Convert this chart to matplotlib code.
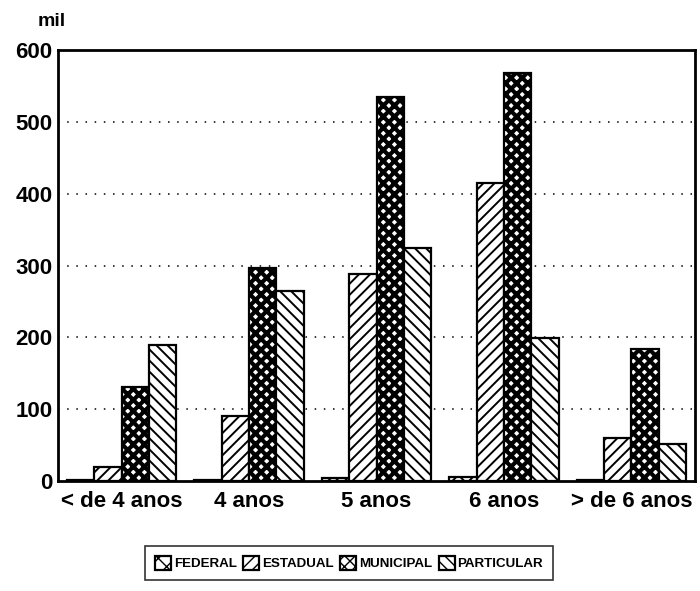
import matplotlib
matplotlib.use("Agg")
import matplotlib.pyplot as plt
import numpy as np

categories = ["< de 4 anos", "4 anos", "5 anos", "6 anos", "> de 6 anos"]
series_names = ["FEDERAL", "ESTADUAL", "MUNICIPAL", "PARTICULAR"]
federal = [1, 2, 4, 5, 1]
estadual = [19, 90, 288, 415, 60]
municipal = [131, 297, 535, 568, 184]
particular = [189, 264, 324, 199, 51]
yticks = [0, 100, 200, 300, 400, 500, 600]

values = [federal, estadual, municipal, particular]
hatches = ["xx", "///", "xxx", "\\\\\\"]
hatch_lw = [1.4, 1.4, 3.0, 1.4]

plt.rcParams['font.family'] = ['Liberation Sans', 'DejaVu Sans']

fig = plt.figure(figsize=(7.0, 5.91), dpi=100)
ax = fig.add_axes([58/700, 1-481/591, (695-58)/700, (481-50)/591])

x = np.arange(len(categories))
w = 0.215
handles = []
for i, (name, vals) in enumerate(zip(series_names, values)):
    with plt.rc_context({'hatch.linewidth': hatch_lw[i], 'hatch.color': 'black'}):
        bars = ax.bar(x + (i - 1.5) * w, vals, width=w, facecolor='white',
                      edgecolor='black', linewidth=1.6, hatch=hatches[i],
                      label=name, zorder=3)
        for b in bars:
            if hasattr(b, 'set_hatch_linewidth'):
                b.set_hatch_linewidth(hatch_lw[i])
    handles.append(bars)

ax.set_xlim(-0.5, len(categories) - 0.5)
ax.set_ylim(0, 600)
ax.set_yticks(yticks)
ax.set_yticklabels([str(v) for v in yticks], fontsize=16, fontweight='bold')
ax.set_xticks(x)
ax.set_xticklabels(categories, fontsize=16, fontweight='bold')
ax.tick_params(axis='both', length=0)
ax.tick_params(axis='y', pad=4)
ax.tick_params(axis='x', pad=7)

for yv in yticks[1:-1]:
    ax.axhline(yv, color='black', linewidth=1.1, linestyle=(0, (1, 5)), zorder=1)

for s in ax.spines.values():
    s.set_linewidth(2.0)

fig.text(38/700, 1-22/591, "mil", fontsize=14, fontweight='bold', va='center', ha='left')

leg = fig.legend(handles=handles, labels=series_names, loc='center',
                 bbox_to_anchor=(349/700, 1-563/591), ncol=4, frameon=True,
                 fancybox=False, edgecolor='black',
                 prop={'weight': 'bold', 'size': 9.6},
                 handlelength=1.2, handleheight=1.2, handletextpad=0.2,
                 columnspacing=0.5, borderpad=0.75)
leg.get_frame().set_linewidth(1.2)

fig.savefig("out.png", dpi=100)
